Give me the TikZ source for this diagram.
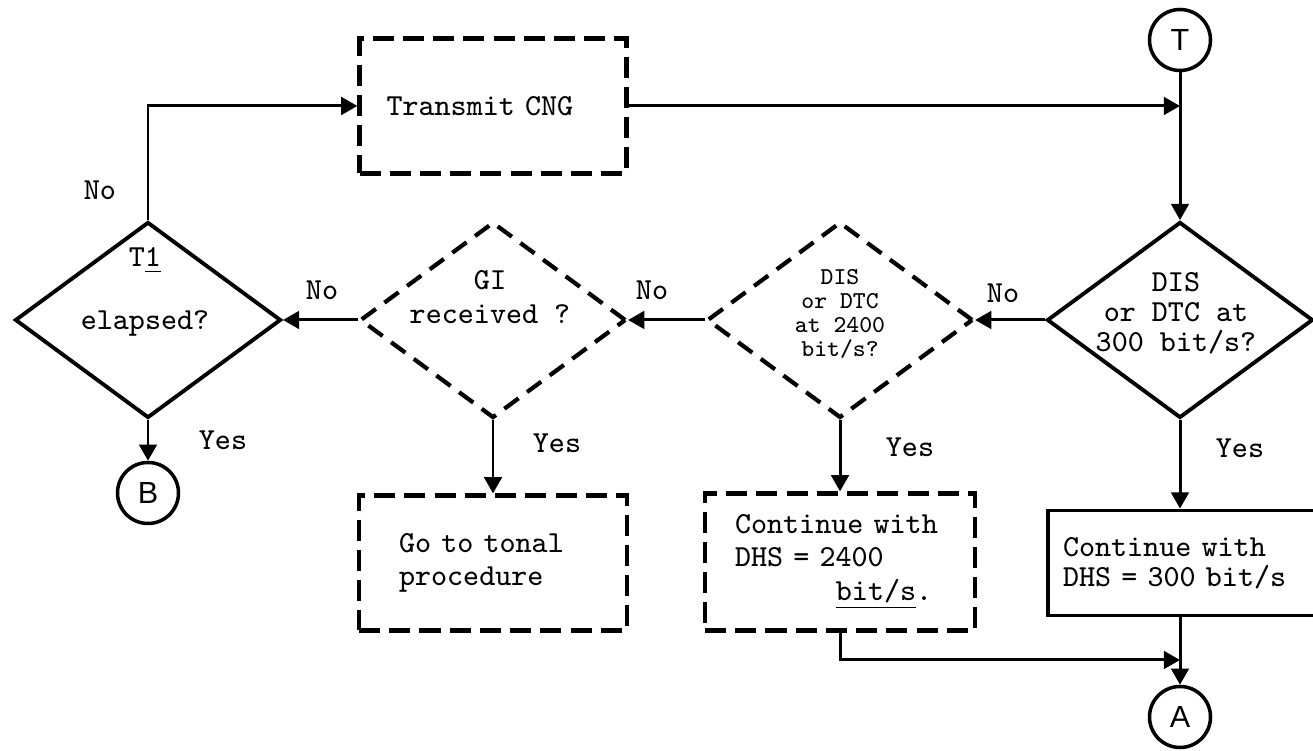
\documentclass[tikz,border=0pt]{standalone}
\usepackage{fontspec}
\setsansfont{Liberation Sans}
\usetikzlibrary{positioning, calc, shapes.geometric, arrows.meta}

\begin{document}
\begin{tikzpicture}[
    dbox/.style={draw, line width=1.2pt, dash pattern=on 6pt off 2.6pt, rectangle,
                 minimum height=13.5mm, align=left, inner ysep=0pt,
                 font=\ttfamily\fontsize{8.7}{9.5}\selectfont},
    sbox/.style={draw, line width=1.1pt, rectangle, minimum height=10.5mm,
                 align=left, inner ysep=0pt,
                 font=\ttfamily\fontsize{8.7}{8.6}\selectfont},
    decision/.style={draw, line width=1.1pt, diamond, inner sep=0pt,
                     minimum width=26.6mm, minimum height=19.6mm},
    ddecision/.style={decision, line width=1.2pt, dash pattern=on 5pt off 3pt},
    conn/.style={draw, line width=1pt, circle, minimum size=6.1mm, inner sep=0pt,
                 font=\sffamily\fontsize{8.7}{10}\selectfont},
    lbl/.style={font=\ttfamily\fontsize{8.7}{9.5}\selectfont, align=center},
    arr/.style={-{Triangle[length=4.6pt, width=5pt]}},
    line width=0.85pt,
]
\useasboundingbox (0,0) rectangle (13.13,7.51);

% =================================================================
%  TOP ROW
% =================================================================
\node[dbox, text width=21.3mm, inner xsep=2.7mm] (CNG) at (4.93, 6.45) {Transmit CNG};
\node[conn] (T) at (11.80, 7.11) {T};
\coordinate (tjoin) at (T |- CNG.east);

\draw[arr] (CNG.east) -- (tjoin);

% =================================================================
%  DECISIONS  (y = 4.31)
% =================================================================
\node[decision]  (d300)  at (11.80, 4.31) {};
\node[ddecision] (d2400) at (8.40, 4.31)  {};
\node[ddecision] (dgi)   at (4.93, 4.31)  {};
\node[decision]  (dt1)   at (1.48, 4.31)  {};

\node[lbl, font=\ttfamily\fontsize{8.7}{8.5}\selectfont] at (11.76, 4.38)
    {DIS\\or DTC at\\300 bit/s?};
\node[lbl, font=\ttfamily\fontsize{6.9}{6.8}\selectfont] at (8.40, 4.37)
    {DIS\\or DTC\\at 2400\\bit/s?};
\node[lbl, font=\ttfamily\fontsize{8.7}{9.9}\selectfont] at (4.90, 4.54)
    {GI\\received ?};
\node[lbl] at (1.45, 4.59) {T\underline{1}\\[8.3pt]elapsed?};

\draw[arr] (T.south) -- (d300.north);
\draw[arr] (d300.west)  -- (d2400.east);
\draw[arr] (d2400.west) -- (dgi.east);
\draw[arr] (dgi.west)   -- (dt1.east);
\draw[arr] (dt1.north)  |- (CNG.west);

\node[lbl] at (10.03, 4.58) {No};
\node[lbl] at (6.52, 4.61)  {No};
\node[lbl] at (3.22, 4.61)  {No};
\node[lbl] at (1.00, 5.61)  {No};

% =================================================================
%  BOTTOM ROW
% =================================================================
\node[conn] (B) at (1.48, 2.58) {B};
\node[dbox, text width=18.8mm, inner xsep=4mm] (tonal) at (4.93, 1.88)
    {Go to tonal\\procedure};
\node[dbox, minimum height=13.7mm, text width=21mm, inner xsep=3mm] (dhs2400)
    at (8.40, 1.89) {Continue with\\DHS = 2400\\\hspace*{3.3em}\underline{bit/s}.};
\node[sbox, text width=30mm, inner xsep=1.5mm] (dhs300) at (12.13, 1.88)
    {Continue with\\DHS = 300 bit/s};
\node[conn] (A) at (11.80, 0.34) {A};
\coordinate (ajoin) at (11.80, 0.91);

\draw[arr] (dt1.south)   -- (B.north);
\draw[arr] (dgi.south)   -- (tonal.north);
\draw[arr] (d2400.south) -- (dhs2400.north);
\draw[arr] (d300.south)  -- (d300.south |- dhs300.north);
\draw[arr] (A |- dhs300.south) -- (A.north);
\draw[arr] (dhs2400.south) |- (ajoin);

\node[lbl] at (2.23, 3.11)  {Yes};
\node[lbl] at (5.57, 3.08)  {Yes};
\node[lbl] at (9.10, 3.04)  {Yes};
\node[lbl] at (12.40, 3.03) {Yes};

\end{tikzpicture}
\end{document}
